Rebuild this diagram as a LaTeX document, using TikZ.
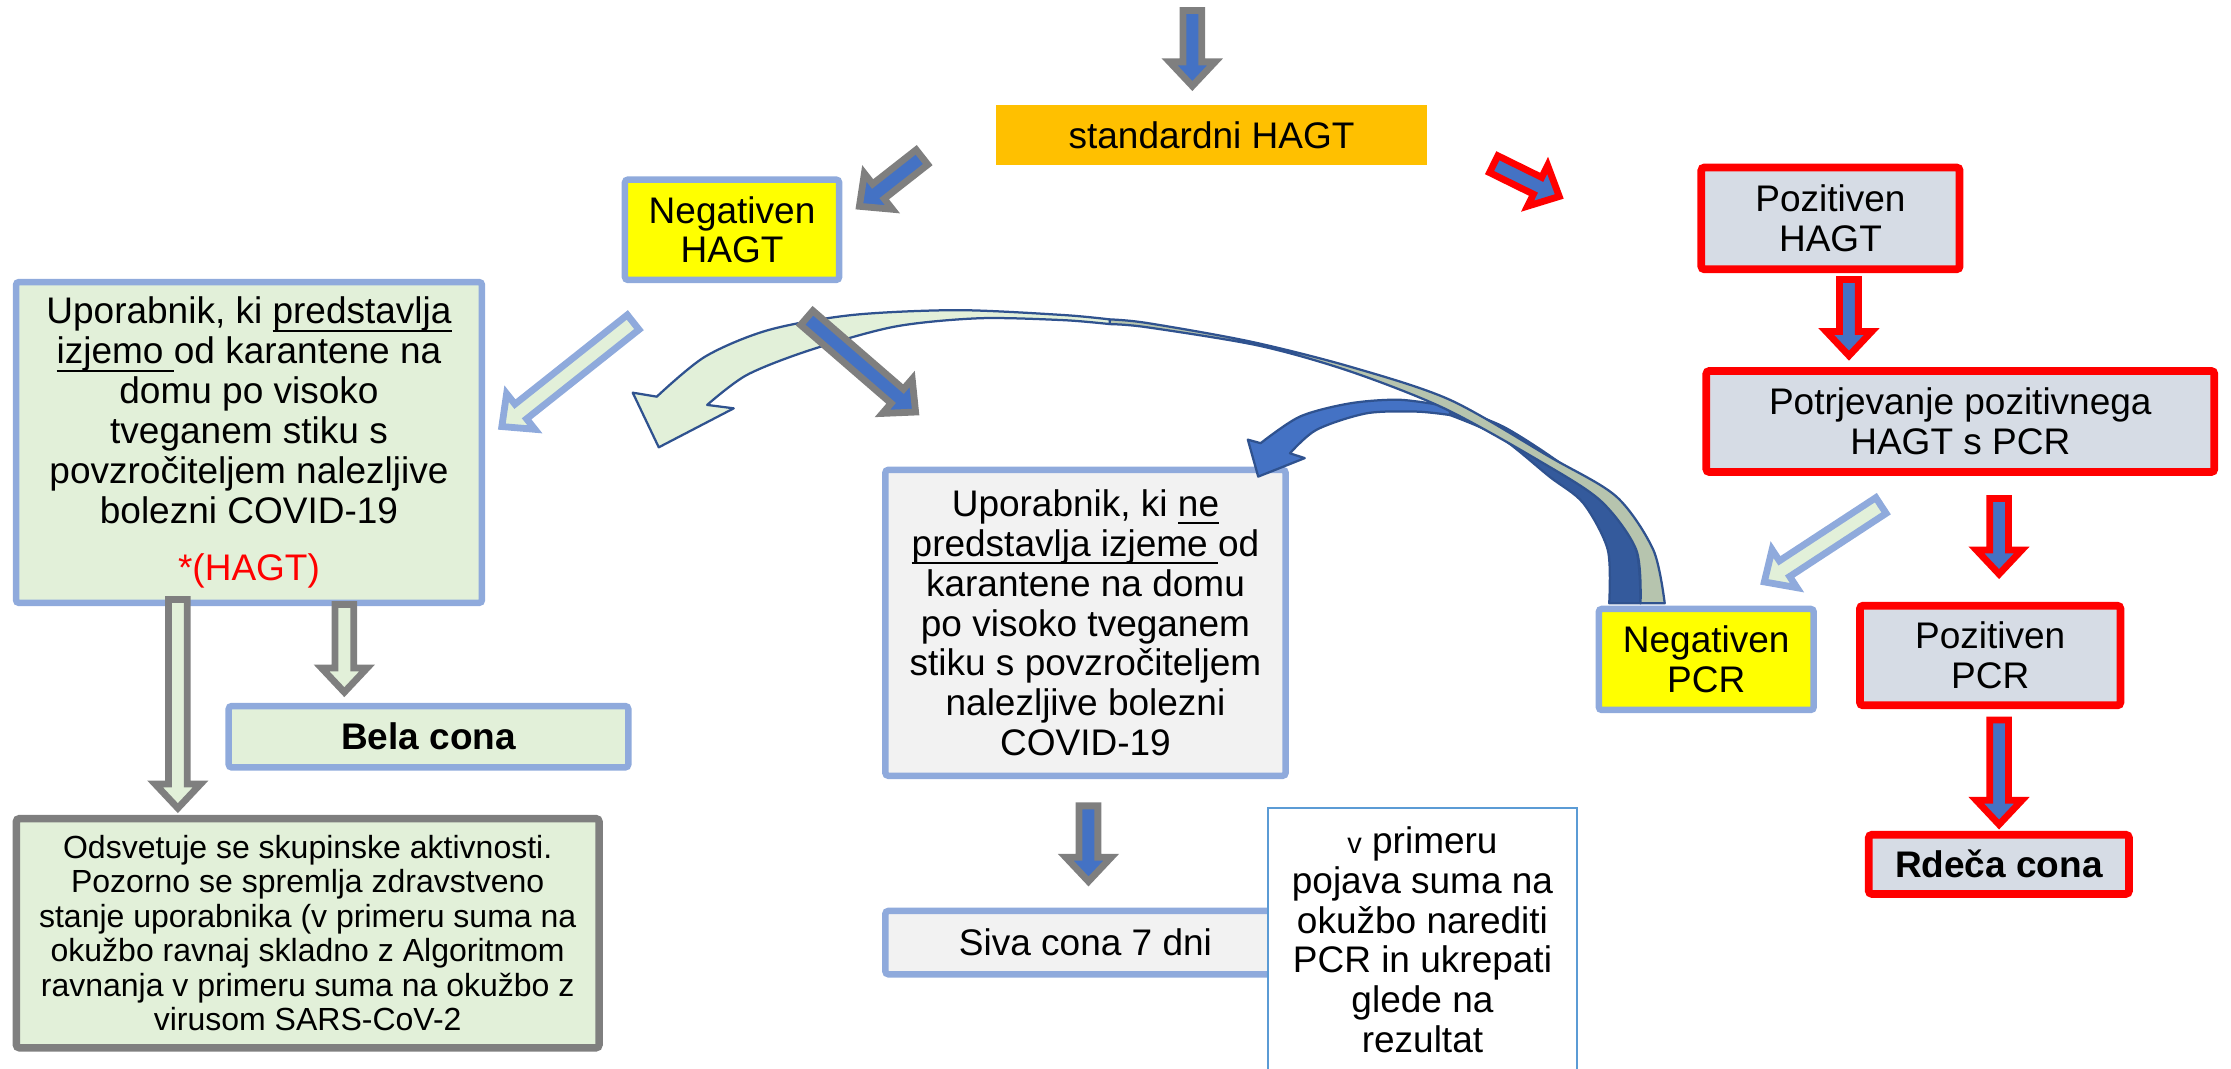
\documentclass[tikz,border=0pt]{standalone}
\usepackage{fontspec}
\setmainfont{Liberation Sans}
\usetikzlibrary{calc}
\definecolor{xorange}{RGB}{255,192,0}
\definecolor{xyellow}{RGB}{255,255,0}
\definecolor{xframe}{RGB}{143,170,220}
\definecolor{xgreen}{RGB}{226,240,217}
\definecolor{xsage}{RGB}{182,196,174}
\definecolor{xlight}{RGB}{242,242,242}
\definecolor{xslate}{RGB}{214,220,229}
\definecolor{xred}{RGB}{255,0,0}
\definecolor{xgray}{RGB}{127,127,127}
\definecolor{xblue}{RGB}{68,114,196}
\definecolor{xdeep}{RGB}{52,90,156}
\definecolor{xnavy}{RGB}{47,82,143}
\definecolor{xsky}{RGB}{91,155,213}

\newcommand\undl[1]{\underline{\smash{#1}}}
\newcommand\blockarrow[3]{%
  \coordinate (ba-h) at ($(#3)!1.7mm!(#2)$);
  \filldraw[#1] ($(#2)!0.66mm!90:(#3)$) -- ($(ba-h)!0.66mm!90:(#3)$) -- ($(ba-h)!1.6mm!90:(#3)$) -- (#3)
    -- ($(ba-h)!1.6mm!-90:(#3)$) -- ($(ba-h)!0.66mm!-90:(#3)$) -- ($(#2)!0.66mm!-90:(#3)$) -- cycle;}

\begin{document}
\begin{tikzpicture}[x=0.1mm, y=-0.1mm,
    every node/.style={font={\fontsize{7.4}{7.97}\selectfont\lineskiplimit=-5pt}, align=center, inner sep=0pt},
    bluebox/.style={draw=xframe, line width=1.3pt, rounded corners=0.6pt},
    redbox/.style={draw=xred, line width=1.55pt, fill=xslate, rounded corners=0.6pt},
    grayarrow/.style={draw=xgray, fill=xblue, line width=1.36pt},
    redarrow/.style={draw=xred, fill=xblue, line width=1.36pt},
    palearrow/.style={draw=xframe, fill=xgreen, line width=1.36pt},
    hollowarrow/.style={draw=xgray, fill=xgreen, line width=1.36pt},
    ribbon/.style={draw=xnavy, line width=0.45pt, line join=round}]
  \useasboundingbox (0,0) rectangle (1568,751);

  \node[fill=xorange, minimum width=30.3mm, minimum height=4.2mm] at (851.5,95) (std) {standardni HAGT};
  \node[bluebox, fill=xyellow, minimum width=15.05mm, minimum height=7.05mm] at (514.5,161.5) (neghagt) {Negativen\\HAGT};
  \node[redbox, minimum width=18.15mm, minimum height=7.15mm] at (1286.5,153.5) (pozhagt) {Pozitiven\\HAGT};
  \node[redbox, minimum width=35.7mm, minimum height=7.1mm] at (1377.75,296.25) (potrj) {Potrjevanje pozitivnega\\HAGT s PCR};
  \node[bluebox, fill=xyellow, minimum width=15.1mm, minimum height=7.1mm] at (1199.2,463.5) (negpcr) {Negativen\\PCR};
  \node[redbox, minimum width=18.3mm, minimum height=7.0mm] at (1398.75,460.75) (pozpcr) {Pozitiven\\PCR};
  \node[redbox, minimum width=18.28mm, minimum height=4.15mm] at (1404.85,607.5) (rdeca) {\bfseries Rdeča cona};
  \node[bluebox, fill=xgreen, minimum width=32.75mm, minimum height=22.55mm] at (175,311) (izjema) {Uporabnik, ki \undl{predstavlja}\\
    \undl{izjemo }od karantene na\\domu po visoko\\tveganem stiku s\\povzročiteljem nalezljive\\bolezni COVID-19\\[3.4pt]
    \textcolor{xred}{*(HAGT)}};
  \node[bluebox, fill=xgreen, minimum width=28.08mm, minimum height=4.31mm] at (301.15,517.8) (bela) {\bfseries Bela cona};
  \node[draw=xgray, line width=1.5pt, fill=xgreen, rounded corners=0.6pt, minimum width=40.95mm, minimum height=16.1mm,
    font={\fontsize{6.4}{6.9}\selectfont}] at (216.25,655.9) (odsvet) {Odsvetuje se skupinske aktivnosti.\\
    Pozorno se spremlja zdravstveno\\stanje uporabnika (v primeru suma na\\okužbo ravnaj skladno z Algoritmom\\
    ravnanja v primeru suma na okužbo z\\virusom SARS-CoV-2};
  \node[bluebox, fill=xlight, minimum width=28.13mm, minimum height=21.5mm] at (762.9,437.75) (brez) {Uporabnik, ki \undl{ne}\\
    \undl{predstavlja izjeme }od\\karantene na domu\\po visoko tveganem\\stiku s povzročiteljem\\nalezljive bolezni\\COVID-19};
  \node[bluebox, fill=xlight, minimum width=28.13mm, minimum height=4.45mm] at (762.9,662.5) (siva) {Siva cona 7 dni};
  \node[draw=xsky, line width=0.45pt, fill=white, minimum width=21.75mm, minimum height=18.5mm] at (999.75,660.5) (primer) {{\fontsize{5.8}{7.97}\selectfont v} primeru\\
    pojava suma na\\okužbo narediti\\PCR in ukrepati\\glede na\\rezultat};

  \filldraw[ribbon, fill=xdeep]
    plot[smooth] coordinates {(1019,285.8) (1056.6,299.9) (1100,328) (1132,356) (1150,386.5) (1153,424)}
    -- plot[smooth] coordinates {(1131,424) (1130,386.5) (1112.8,353.7) (1089,335) (1054,307) (1019,291.7)} -- cycle;
  \filldraw[ribbon, fill=xblue]
    plot[smooth] coordinates {(1019,291.7) (995.6,289.3) (960.5,290.5) (925.4,302) (906.6,318.6)}
    -- (917,322) -- (884.3,335) -- (877,309) -- (886,311.5)
    -- plot[smooth] coordinates {(886,311.5) (913.6,292.8) (948.8,283.5) (984,281) (1019,285.8)} -- cycle;
  \filldraw[ribbon, fill=xsage]
    plot[smooth] coordinates {(780,224.5) (806,227) (878.5,240) (948.8,257.7) (1019,281) (1089,321) (1136,349) (1162,386.5) (1170,424)}
    -- plot[smooth] coordinates {(1153,424) (1150,386.5) (1125,352) (1082,324) (1015,287) (948.8,261) (885,243) (806,230) (780,227.8)} -- cycle;
  \filldraw[ribbon, fill=xgreen]
    plot[smooth] coordinates {(780,227.8) (747,225) (688,223.7) (628.7,229.6) (569.5,246) (525,263.5) (497,284.6)}
    -- (515.7,287) -- (463,314.4) -- (444.7,276) -- (461.6,278.8)
    -- plot[smooth] coordinates {(461.6,278.8) (495.5,250.7) (540,232) (599,221.4) (673,218) (747,221.4) (780,224.5)} -- cycle;

  \coordinate (a1) at (838,7.4);      \coordinate (a2) at (838,60.5);
  \coordinate (b1) at (648,110.5);    \coordinate (b2) at (604,145);
  \coordinate (c1) at (1049.8,115.4); \coordinate (c2) at (1095.9,138.1);
  \coordinate (d1) at (1299.5,196.4); \coordinate (d2) at (1299.5,250);
  \coordinate (e1) at (1405,350.4);   \coordinate (e2) at (1405,403.5);
  \coordinate (f1) at (1405,506);     \coordinate (f2) at (1405,579.5);
  \coordinate (g1) at (1322,355.3);   \coordinate (g2) at (1240,409);
  \coordinate (h1) at (445,226.5);    \coordinate (h2) at (352.7,299.8);
  \coordinate (i1) at (567,223.4);    \coordinate (i2) at (643.5,289.6);
  \coordinate (j1) at (765,566.4);    \coordinate (j2) at (765,619.5);
  \coordinate (k1) at (125,421.4);    \coordinate (k2) at (125,568);
  \coordinate (l1) at (242,424.8);    \coordinate (l2) at (242,486.5);

  \blockarrow{grayarrow}{a1}{a2}
  \blockarrow{grayarrow}{b1}{b2}
  \blockarrow{redarrow}{c1}{c2}
  \blockarrow{redarrow}{d1}{d2}
  \blockarrow{redarrow}{e1}{e2}
  \blockarrow{redarrow}{f1}{f2}
  \blockarrow{palearrow}{g1}{g2}
  \blockarrow{palearrow}{h1}{h2}
  \blockarrow{grayarrow}{i1}{i2}
  \blockarrow{grayarrow}{j1}{j2}
  \blockarrow{hollowarrow}{k1}{k2}
  \blockarrow{hollowarrow}{l1}{l2}
\end{tikzpicture}
\end{document}
